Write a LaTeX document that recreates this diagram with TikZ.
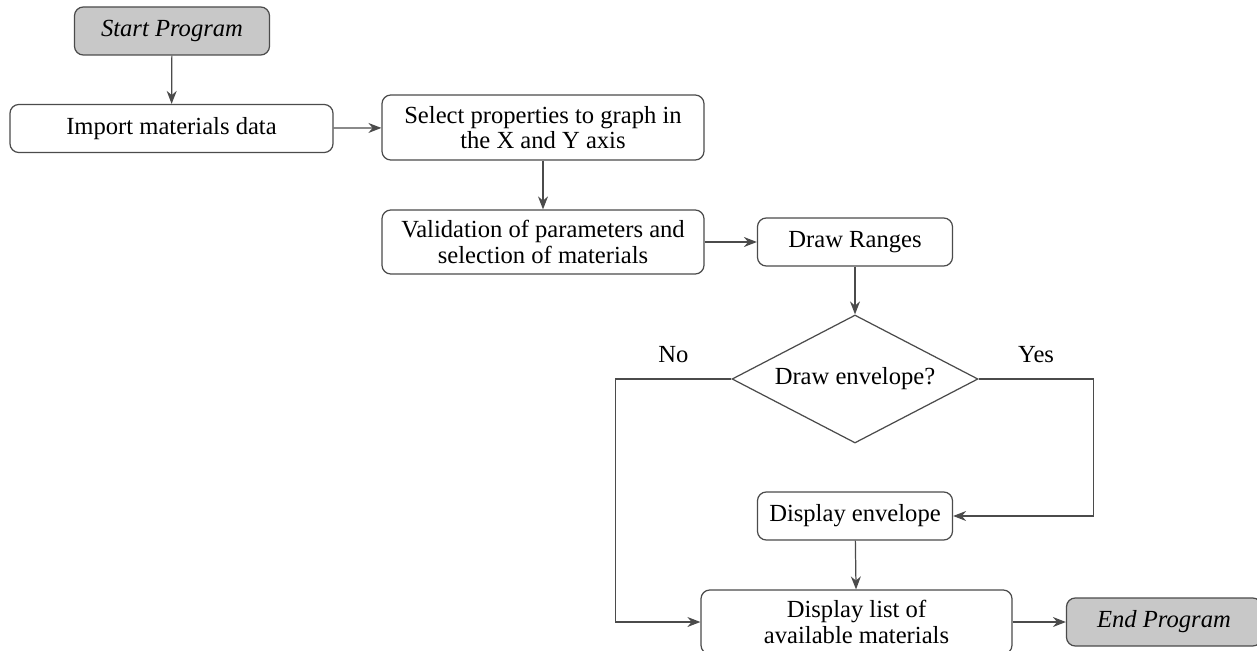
\documentclass[tikz,border=0pt]{standalone}
\usepackage{fontspec}
\setmainfont{Liberation Serif}
\usetikzlibrary{arrows.meta,positioning,shapes.geometric}
\definecolor{edge}{RGB}{75,75,75}
\definecolor{term}{RGB}{200,200,200}
\tikzset{
  >={Stealth[length=2.6mm,width=2mm]},
  box/.style={draw=edge,fill=white,rounded corners=5pt,line width=0.7pt,
    minimum height=9.6mm,minimum width=#1,align=center,font=\fontsize{14}{14.5}\selectfont},
  box/.default=39mm,
  term box/.style={box=#1,fill=term,font=\fontsize{14}{14.5}\selectfont\itshape},
  term box/.default=39mm,
  decision/.style={diamond,aspect=1.92,draw=edge,line width=0.7pt,minimum width=49.2mm,
    minimum height=25.6mm,inner sep=0pt,font=\fontsize{14}{14.5}\selectfont},
  flow/.style={->,line width=0.7pt,draw=edge},
  tag/.style={font=\fontsize{14}{14.5}\selectfont},
}
\begin{document}
\begin{tikzpicture}
        \useasboundingbox (0,0) rectangle (25.14,-13.02);
        \node[term box] (start) at (3.44,-0.62) {Start Program};
        \node[box=64.6mm] (import) at (3.43,-2.57) {Import materials data};
        \node[box=64.4mm,minimum height=13mm] (select) at (10.86,-2.55) {Select properties to graph in\\the X and Y axis};
        \node[box=64.4mm,minimum height=12.8mm] (valid) at (10.86,-4.84) {Validation of parameters and\\selection of materials};
        \node[box] (ranges) at (17.1,-4.84) {Draw Ranges};
        \node[decision] (env?) at (17.1,-7.58) {Draw envelope?};
        \node[box] (env) at (17.1,-10.32) {Display envelope};
        \node[box=62.2mm,minimum height=12.8mm] (list) at (17.13,-12.44) {Display list of\\available materials};
        \node[term box] (end) at (23.28,-12.44) {End Program};
        \draw[flow] (start) -- (import); \draw[flow] (import) -- (select);
        \draw[flow] (select) -- (valid); \draw[flow] (valid) -- (ranges);
        \draw[flow] (ranges) -- (env?);
        \draw[flow] (env?.west) -- node[tag,above=2mm] {No} ++(-2.32,0) |- (list.west);
        \draw[flow] (env?.east) -- node[tag,above=2mm] {Yes} ++(2.3,0) |- (env.east);
        \draw[flow] (env) -- (list); \draw[flow] (list) -- (end);
      \end{tikzpicture}
\end{document}
